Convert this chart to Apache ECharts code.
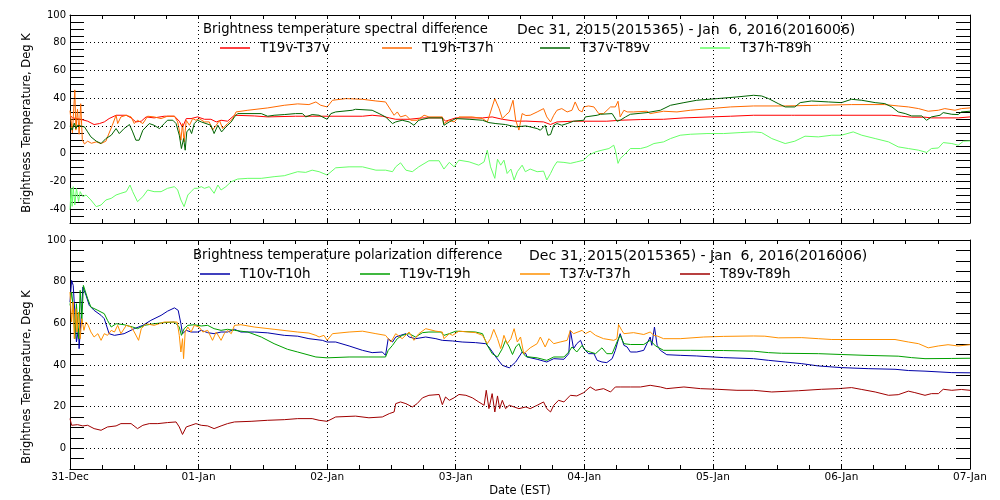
<!DOCTYPE html>
<html><head><meta charset="utf-8">
<script src="https://cdn.jsdelivr.net/npm/echarts@6/dist/echarts.min.js"></script>
<style>html,body{margin:0;padding:0;background:#fff}#c{width:1000px;height:500px}</style>
</head><body><div id="c"></div>
<script>
// ---- tick labels / gridlines ----
const dayLabels = ['31-Dec','01-Jan','02-Jan','03-Jan','04-Jan','05-Jan','06-Jan','07-Jan'];
const topGridValues = [80,60,40,20,0,-20,-40];
const bottomGridValues = [80,60,40,20,0];
const dayLines = [24,48,72,96,120,144];

// ---- series data: [hours since Dec 31 00:00 EST, Deg K] ----
const t19vT37v = [[0,27.7],[0.5,25.8],[2.0,24.8],[3.3,23.4],[4.5,21],[5.5,21.7],[6.4,22.9],[7.3,25.3],[8.6,27.7],[10.5,27.7],[11.4,25.8],[12.3,22.9],[13.3,23.4],[14.2,26.5],[15.7,25.8],[17.6,27],[19.5,27],[20.4,23.4],[21.0,19],[21.7,25.3],[22.6,25.3],[23.8,26.5],[25.1,24.8],[26.3,24.8],[27.3,22.9],[28.2,24.1],[29.4,23.4],[30.7,27.7],[34.4,27.2],[36.9,26.5],[42.1,27],[54.6,27],[56.4,27.7],[58.3,27],[59.6,25.8],[60.8,24.8],[63.3,24.8],[65.8,25.8],[69.5,25.8],[70.1,23.4],[72.0,25.8],[77.0,25.8],[78.8,26.5],[80.7,24.8],[83.2,23.4],[85.1,23.5],[88.4,22.9],[89.7,21],[90.9,22.9],[94.0,23.4],[100.2,23.4],[102.7,24.1],[106.5,24.6],[110.8,24.8],[114.6,25.8],[119.5,26.5],[123.3,27],[127.6,27.7],[134.7,27.7],[135.0,27],[135.3,27.7],[153.4,27.7],[155.2,27],[157.1,26.3],[159.6,26.3],[160.8,25.8],[165.8,25.8],[168,26.5]];
const t19hT37h = [[0,31],[0.45,15],[0.9,46],[1.1,17],[1.4,32],[1.7,14],[2.0,36],[2.3,10],[2.7,7],[3.3,9],[4.0,7.5],[4.9,8.5],[5.8,7.3],[6.7,9],[7.0,12],[7.9,20.5],[8.6,27.7],[8.9,21.7],[9.5,26.5],[10.5,27.7],[11.4,26.5],[12.0,21.7],[12.6,24.1],[13.6,21.7],[14.5,27],[15.7,26.5],[17.0,25.3],[18.2,27],[19.5,27],[20.1,22.9],[20.4,17],[20.7,9.7],[21.0,21.7],[21.3,8.5],[21.7,24],[22.3,20.5],[22.9,25.3],[23.5,24.1],[24.1,25.3],[25.1,22.9],[26.0,22.9],[26.6,17],[27.3,20.5],[27.9,24],[28.5,18.1],[29.4,21.7],[30.4,25.3],[31.0,30.1],[33.2,31.3],[36.9,33],[40.0,34.9],[42.5,35.9],[44.6,35.4],[45.9,37.3],[46.8,34.9],[48.0,33.7],[49.0,38.5],[51.5,39.7],[54.6,39.2],[57.1,38],[58.9,37.3],[59.9,31.3],[60.5,27.7],[61.1,30.1],[61.7,26.5],[62.7,27.7],[63.6,24.1],[64.8,24.1],[66.1,27.7],[67.0,26.5],[69.5,26.5],[69.8,21.7],[70.8,24.1],[71.7,22.9],[72.6,26.5],[75.1,26.5],[77.0,25.3],[77.9,22.9],[78.5,30.1],[79.3,39.7],[80.1,32.5],[80.7,25.3],[81.3,27.7],[82.0,30.1],[82.7,38.5],[83.2,24.1],[83.8,17],[84.4,28.9],[85.1,27.5],[85.9,27.7],[87.2,30.1],[88.4,32.5],[89.0,26.5],[89.7,22.9],[90.3,27.7],[90.9,31.3],[91.8,32.5],[92.8,30.1],[93.7,31.3],[94.3,37.3],[95.0,31.3],[95.6,30.1],[95.9,33.7],[96.8,34.4],[97.8,33.7],[98.7,28.9],[99.6,28.9],[100.9,33.7],[101.8,33.7],[102.3,37.8],[102.7,26.5],[103.4,31.3],[104.0,30.1],[105.2,30.1],[107.7,30.6],[108.3,28.9],[110.8,30.6],[113.3,30.1],[115.8,31.3],[119.5,32.5],[123.3,33.7],[127.6,34.4],[133.5,34.4],[139.7,34.9],[145.9,35.4],[152.1,35.4],[154.6,34.4],[156.5,33.7],[158.4,32.5],[160.2,30.6],[162.1,31.3],[163.3,32.5],[165.2,31.3],[166.4,32.5],[168,33]];
const t37vT89v = [[0,20],[0.4,17],[0.8,22],[1.1,18],[1.4,20.5],[2.7,19.3],[3.3,15.7],[3.9,12.1],[4.9,9],[5.8,7.3],[6.7,10.9],[7.7,13.3],[8.6,18.1],[9.2,14.5],[10.1,18.1],[11.1,21],[11.7,15.7],[12.3,9.7],[12.9,9.7],[13.6,16.9],[14.2,19.3],[14.8,21.7],[15.7,20.5],[16.7,18.1],[17.6,21.7],[18.2,24.1],[19.2,24.1],[19.8,21.7],[20.4,13.3],[20.8,3.7],[21.2,10.9],[21.5,2.5],[21.8,15.7],[22.3,18.1],[22.7,14.5],[23.2,21.7],[23.8,24.1],[24.5,22.9],[25.4,21.7],[26.3,20.5],[26.9,14.5],[27.6,20.5],[28.3,15.7],[29.1,19.3],[30.1,22.9],[30.7,26.5],[31.3,28.9],[35.7,28.9],[36.9,27],[38.1,27.7],[40.0,28.2],[42.1,28.9],[43.4,28.9],[44.0,26.5],[45.2,28.2],[46.5,27.7],[48.0,24.8],[48.7,28.9],[49.6,30.1],[52.7,31.3],[53.3,32],[56.4,31.3],[57.7,28.9],[58.9,26.5],[60.2,21.7],[60.8,22.9],[62.0,24.1],[63.3,22.9],[64.2,20.5],[65.1,24.1],[67.0,25.8],[69.5,25.8],[69.8,20.5],[70.8,22.9],[72.0,25.3],[74.5,24.8],[77.0,24.1],[78.2,22.4],[79.5,21.7],[81.3,21],[83.2,19.3],[85.1,20],[85.9,19.3],[87.2,18.1],[87.8,16.9],[88.7,20.5],[89.2,13.3],[89.7,13.8],[90.3,20.5],[90.9,21.7],[91.8,20.5],[92.8,21.7],[94.0,23.4],[95.9,24.1],[96.2,26.5],[98.4,27.7],[99.0,28.4],[101.2,28.9],[101.5,27.7],[102.1,23.4],[102.7,24.1],[103.7,26.5],[104.6,28.4],[107.7,29.6],[110.2,31.3],[112.1,34.9],[114.6,36.8],[117.0,38.5],[120.8,39.7],[124.5,40.9],[127.6,42.1],[129.1,41.6],[130.4,39.7],[132.2,36.1],[133.5,33.7],[135.3,33.7],[136.3,36.8],[138.4,38],[141.6,37.3],[144.0,36.8],[145.9,39.2],[147.8,38.5],[150.3,36.8],[152.1,36.1],[153.4,33.7],[154.6,30.1],[155.9,28.9],[157.1,27.2],[159.0,27.2],[159.9,24.1],[160.8,26.5],[162.4,27.7],[163.0,29.6],[164.6,28.4],[165.8,28.2],[166.4,30.1],[168,30.6]];
const t37hT89h = [[0,-40.6],[0.2,-25],[0.4,-38],[0.6,-23.8],[0.9,-37],[1.2,-25],[1.6,-34.6],[1.9,-27.4],[2.4,-31],[3.0,-29.8],[3.9,-33.4],[4.9,-38.2],[5.8,-37],[6.7,-33.4],[7.7,-32.2],[8.6,-29.8],[9.5,-28.6],[10.5,-27.4],[11.2,-22.6],[11.7,-27.4],[12.6,-34.6],[13.6,-31],[14.5,-26.2],[15.7,-27.4],[17.0,-27.4],[18.2,-25],[19.5,-23.8],[20.1,-26.2],[20.7,-33.4],[21.3,-38.2],[22.0,-29.8],[22.6,-27.4],[23.2,-25],[23.8,-25],[24.5,-23.8],[25.1,-25],[26.0,-23.8],[26.9,-28.6],[27.6,-22.6],[28.2,-26.2],[29.1,-23.8],[30.1,-20.2],[31.3,-18.3],[33.2,-17.8],[35.7,-17.8],[38.1,-16.6],[40.0,-15.9],[42.5,-13],[44.0,-13.5],[45.2,-11.9],[46.5,-13],[48.0,-15.4],[49.6,-10.2],[52.1,-9.5],[54.6,-9.5],[57.1,-11.9],[58.9,-11.9],[60.2,-13],[60.8,-9.5],[61.7,-6.6],[62.7,-11.9],[63.9,-13],[65.1,-9.5],[67.0,-5.1],[68.9,-5.1],[69.8,-11.1],[70.8,-6.3],[71.7,-9.5],[72.6,-4.7],[74.5,-5.9],[76.3,-8.3],[77.3,-5.9],[77.9,2.5],[78.5,-9.5],[79.3,-17.8],[79.8,-4],[80.4,-8.3],[81.0,-4.7],[81.6,-14.3],[82.3,-11.1],[82.9,-19],[83.5,-13],[84.4,-8.3],[84.7,-7],[85.0,-13],[85.9,-11.1],[87.2,-13],[88.4,-12.6],[89.0,-19],[89.7,-14.3],[90.3,-9.5],[90.9,-5.9],[92.2,-6.3],[93.4,-7],[94.6,-5.9],[95.9,-4.7],[96.8,-1.1],[98.1,1.3],[99.3,2.5],[100.6,3.7],[101.5,6.1],[101.8,2.5],[102.3,-7],[102.7,-3.5],[103.4,-1.1],[104.6,3.7],[106.5,3.7],[107.7,4.9],[109.0,7.3],[110.8,8.5],[112.1,10.9],[113.9,13.3],[115.8,14],[118.9,14.5],[122.0,14.5],[125.1,15.2],[127.6,15.7],[129.1,15.2],[131.0,10.9],[133.5,7.3],[135.3,9],[137.2,12.6],[139.7,12.1],[142.2,13.3],[144.0,13.3],[146.2,15.7],[147.8,13.3],[150.3,10.9],[152.8,8.5],[154.6,4.9],[156.5,3.7],[158.4,2.5],[159.9,0.9],[160.8,3.7],[162.1,4.1],[163.0,8],[164.6,7.3],[165.8,6.1],[166.8,9],[168,9.2]];

const t10vT10h = [[0,70.2],[0.3,80.6],[0.6,78.2],[0.9,65.4],[1.2,51],[1.6,57.4],[1.7,47.8],[2.1,63.8],[2.4,77.4],[2.7,77.4],[3.0,73.4],[3.6,68.6],[4.5,66.2],[5.8,63.8],[6.4,62.2],[6.9,58.2],[7.3,55],[8.3,54.2],[10.1,55],[12.0,57.4],[13.6,59],[15.1,61.4],[17.0,63.8],[18.2,65.8],[19.5,67.4],[20.2,66.2],[20.7,59.8],[21.0,55],[21.7,56.6],[22.6,55.8],[23.8,55.8],[24.5,56.6],[25.7,55.5],[26.9,55],[28.2,55.8],[29.4,55.8],[30.7,57.1],[31.9,55.8],[34.4,55.8],[36.9,55.4],[40.0,54.2],[42.5,53.8],[44.6,52.6],[47.1,51.8],[48.0,51],[49.6,51],[52.1,49.1],[54.6,47],[56.4,45.9],[58.3,46.2],[58.9,44.6],[59.4,52.6],[60.2,51],[60.8,53.4],[61.7,54.2],[62.7,55],[63.3,53.4],[64.5,52.6],[66.4,53.4],[68.3,52.6],[69.5,51.8],[71.4,51.5],[73.2,51],[75.7,50.7],[77.6,50.2],[78.2,48.6],[79.5,43.8],[80.7,39.8],[82.0,38.6],[83.2,41.4],[84.4,46.2],[85.1,45.4],[85.3,43.8],[87.2,42.7],[89.0,41.4],[90.3,43],[92.2,42.7],[93.1,45.4],[93.4,56.6],[94.0,47.8],[94.6,50.2],[95.3,51.8],[95.9,47.8],[96.8,45.4],[97.8,45.4],[98.4,42.2],[99.3,41.4],[100.2,41.1],[101.2,43],[101.8,47],[102.4,52.6],[102.7,55],[103.4,49.4],[104.0,48.6],[104.6,46.2],[105.8,46.2],[107.1,47],[107.7,50.2],[108.3,53.4],[108.6,49.4],[109.1,58.2],[109.6,49.4],[110.2,47],[111.4,44.9],[113.9,44.6],[117.0,44.3],[122.0,43.5],[127.6,43],[130.4,42.2],[133.5,41.4],[136.6,40.6],[139.7,39.5],[144.0,38.7],[149.0,38.2],[154.0,37.9],[156.5,37.3],[159.6,37],[164.6,36.3],[168,36.2]];
const t19vT19h = [[0,68.6],[0.3,75],[0.7,65.4],[0.9,52.6],[1.2,69.4],[1.6,52.6],[1.9,75.8],[2.2,60.6],[2.5,78.2],[2.8,78.2],[3.3,71.8],[3.9,67.8],[5.2,66.2],[6.4,64.6],[7.0,61.4],[7.7,58.2],[8.6,59.8],[10.1,59.3],[11.7,58.2],[12.6,57.4],[13.9,59],[15.7,59.8],[17.6,60.3],[19.5,60.6],[20.4,58.2],[20.8,54.2],[21.3,57.4],[22.0,59],[23.2,59.3],[24.5,58.7],[25.7,59],[26.9,57.4],[28.2,56.6],[29.4,57.1],[30.7,56.6],[33.2,55.8],[35.7,53.4],[38.1,50.2],[40.6,47.5],[42.5,46.2],[45.9,43.8],[48.0,43.4],[52.1,43.8],[55.8,43.8],[58.9,43.8],[59.4,47],[60.2,49.4],[61.1,52.6],[62.0,54.2],[63.3,55],[64.5,53.4],[65.8,55.5],[67.0,55.8],[69.2,55.8],[69.8,54.2],[70.8,55],[72.0,56.2],[75.7,55.8],[77.0,55],[77.9,49.4],[78.8,45.4],[79.8,43.8],[80.7,47.8],[81.3,51.8],[82.0,48.6],[82.6,45],[83.2,48.6],[83.8,50.2],[84.4,46.2],[85.1,44],[87.2,43.4],[89.0,42.2],[90.3,43.8],[92.2,43.8],[93.1,46.2],[93.7,48.6],[94.6,46.2],[95.6,49.4],[96.2,47],[97.1,46.2],[98.1,45.4],[99.3,48.2],[100.2,45.4],[101.2,45.4],[102.1,51],[102.7,54.2],[103.4,50.2],[104.6,49.8],[107.1,49.8],[108.3,51.8],[109.3,49.1],[110.8,47],[115.8,47],[122.0,46.9],[127.6,46.6],[130.4,45.9],[132.8,45.6],[139.7,45.4],[144.0,45],[148.4,44.6],[154.6,44.2],[157.1,43.5],[159.6,43],[164.6,43.1],[168,43.2]];
const t37vT37h = [[0,75],[0.3,60.6],[0.6,70.2],[0.8,52.6],[1.1,67],[1.3,55.8],[1.6,65.4],[1.9,52.6],[2.2,62.2],[2.6,56.6],[3.0,60.6],[3.4,59],[3.9,55.8],[4.5,53.4],[5.2,55],[5.8,51.8],[6.4,55],[7.0,54.2],[7.7,56.6],[8.3,55.8],[8.9,59],[9.5,55],[10.5,59],[11.4,58.2],[12.0,55.8],[12.8,51.8],[13.3,57.4],[14.2,59.8],[15.7,59],[17.6,60.6],[18.9,60.6],[20.0,60.6],[20.4,54.2],[20.7,46.2],[21.0,52.6],[21.2,43],[21.5,55.8],[22.0,58.2],[22.6,55.8],[23.2,59],[24.1,58.2],[24.8,55.8],[25.7,56.6],[26.6,51.8],[27.3,55.8],[28.2,51.8],[28.8,55],[29.4,56.6],[30.1,55],[30.7,59],[31.9,59.3],[34.4,58.2],[38.1,57.1],[42.5,55.8],[44.6,55.3],[45.9,54.2],[46.5,53.4],[47.4,54.2],[48.0,51.8],[49.0,55],[52.1,55.8],[54.6,56.2],[57.1,55],[58.9,54.2],[59.9,51],[60.8,55],[62.0,52.6],[63.3,55.8],[64.2,51.8],[65.1,55],[66.4,57.4],[68.3,56.2],[69.5,55.8],[69.8,52.6],[70.8,55],[71.4,54.2],[72.6,56.2],[75.7,55.5],[77.0,54.2],[77.9,50.2],[78.5,52.6],[79.1,57.1],[79.8,52.6],[80.4,47.8],[81.0,54.2],[81.6,50.2],[82.3,52.6],[82.9,57.4],[83.5,51],[84.1,53.4],[84.7,45.4],[85.0,46.2],[85.9,48.2],[87.2,50.2],[87.8,53.4],[88.7,48.6],[89.4,52.6],[90.3,50.2],[91.5,51],[92.8,51.8],[93.4,56.6],[94.0,55],[95.6,56.6],[96.2,55],[97.1,56.2],[98.1,54.2],[99.6,52.6],[101.5,51.8],[102.1,52.6],[102.4,59.4],[103.0,56.6],[103.4,55],[105.2,55.5],[107.1,54.6],[108.3,55.8],[109.0,54.2],[109.6,53.9],[110.8,52.6],[113.9,52.6],[118.3,53.4],[122.0,53.7],[127.6,53.9],[129.7,53.8],[132.2,53],[136.6,53.1],[139.7,52.6],[142.2,52.2],[154.0,52.2],[156.5,51],[158.4,50.2],[160.2,48.2],[162.1,49.1],[163.9,49.7],[165.8,49.1],[168,49.7]];
const t89vT89h = [[0,14.2],[0.3,11],[1.4,11.3],[2.4,10.7],[3.3,11],[4.5,9.4],[5.8,8.6],[7.0,10.2],[8.6,10.7],[9.5,11.8],[11.4,11.8],[12.6,9.4],[13.6,11],[14.8,11.8],[16.4,11.8],[18.2,12.3],[19.8,12.6],[20.4,10.2],[21.0,6.6],[21.7,10.2],[22.6,11],[23.5,11.8],[24.5,11],[25.7,10.7],[26.9,9.4],[28.2,10.7],[29.4,11.8],[30.7,12.6],[33.8,12.9],[36.9,13.4],[40.0,13.7],[42.5,14.2],[45.2,14.2],[46.5,13.4],[48.0,12.9],[49.6,15],[53.3,15.4],[55.8,14.6],[58.3,15],[59.6,16.6],[60.5,17.4],[60.8,21.4],[61.7,22.2],[62.7,21.4],[63.9,19.8],[64.8,21.4],[65.8,24.2],[67.0,25.4],[68.9,25.8],[69.5,20.9],[70.1,24.6],[70.8,23],[71.7,24.2],[72.6,25.8],[73.9,25.4],[75.1,24.2],[76.3,22.2],[77.3,20.6],[77.7,27.8],[78.2,19],[78.8,26.2],[79.3,17.4],[79.8,25.1],[80.2,19],[80.7,23],[81.3,19],[82.0,20.6],[82.9,19.8],[83.8,19],[85.1,19.8],[85.9,19],[87.2,20.6],[88.4,22.2],[89.0,19],[89.7,17.4],[90.3,20.6],[91.2,23],[92.2,22.2],[93.4,25.4],[94.6,25.1],[95.9,26.7],[97.1,29.4],[98.1,27.8],[99.6,28.6],[100.9,27],[101.8,29.4],[102.7,29.4],[104.6,29.4],[106.5,29.4],[108.3,30.2],[110.2,29.4],[111.4,28.6],[114.6,29.4],[117.7,28.6],[120.8,28.3],[124.5,27.8],[127.6,27.8],[131.0,27],[136.0,27.6],[140.3,28.3],[143.4,28.6],[145.9,29.1],[147.8,28.2],[150.3,27],[152.8,25.4],[154.6,25.7],[156.5,27.4],[157.7,26.7],[159.6,25.4],[160.8,26.2],[162.1,26.2],[163.0,28.3],[164.6,27.8],[166.4,28.2],[168,27.8]];

const topNames = ['T19v-T37v','T19h-T37h','T37v-T89v','T37h-T89h'];
const topData = [t19vT37v, t19hT37h, t37vT89v, t37hT89h];
const topColors = ['#ff0000','#ff6a00','#006400','#66ff66'];
const botNames = ['T10v-T10h','T19v-T19h','T37v-T37h','T89v-T89h'];
const botData = [t10vT10h, t19vT19h, t37vT37h, t89vT89h];
const botColors = ['#0000a8','#00a000','#ff9000','#a00000'];

const FF = 'DejaVu Sans';
const chart = echarts.init(document.getElementById('c'));

function xAxesFor(gi, labels) {
  const base = {
    type: 'value', gridIndex: gi, min: 0, max: 168, interval: 6,
    axisLine: { show: true, onZero: false, lineStyle: { color: '#000', width: 1 } },
    axisTick: { show: true, inside: true, length: 4, lineStyle: { color: '#000', width: 1 } },
    splitLine: { show: false }
  };
  return [
    Object.assign({}, base, {
      position: 'bottom',
      axisLabel: { show: labels, color: '#000', fontFamily: FF, fontSize: 10.5, margin: 3,
        formatter: v => (v % 24 === 0 ? dayLabels[v / 24] : '') },
      name: labels ? 'Date (EST)' : '', nameLocation: 'middle', nameGap: 16,
      nameTextStyle: { color: '#000', fontFamily: FF, fontSize: 11.5 }
    }),
    Object.assign({}, base, { position: 'top', axisLabel: { show: false } })
  ];
}
function yAxesFor(gi, min, max) {
  const base = {
    type: 'value', gridIndex: gi, min: min, max: max, interval: 5,
    axisLine: { show: true, onZero: false, lineStyle: { color: '#000', width: 1 } },
    axisTick: { show: true, inside: true, length: 14, lineStyle: { color: '#000', width: 1 } },
    splitLine: { show: false }
  };
  return [
    Object.assign({}, base, { position: 'left',
      axisLabel: { color: '#000', fontFamily: FF, fontSize: 10, margin: 4,
        formatter: v => (v % 20 === 0 ? String(v) : '') } }),
    Object.assign({}, base, { position: 'right', axisLabel: { show: false } })
  ];
}

const gridStyle = { color: '#000', type: [1, 3], width: 1 };
const series = [];
topNames.forEach((n, i) => {
  const s = { name: n, type: 'line', xAxisIndex: 0, yAxisIndex: 0, data: topData[i],
    showSymbol: false, symbol: 'none', color: topColors[i], lineStyle: { width: 1, color: topColors[i] } };
  if (i === 0) s.markLine = { silent: true, symbol: 'none', label: { show: false }, lineStyle: gridStyle,
    data: topGridValues.map(v => ({ yAxis: v })).concat(dayLines.map(v => ({ xAxis: v }))) };
  series.push(s);
});
botNames.forEach((n, i) => {
  const s = { name: n, type: 'line', xAxisIndex: 2, yAxisIndex: 2, data: botData[i],
    showSymbol: false, symbol: 'none', color: botColors[i], lineStyle: { width: 1, color: botColors[i] } };
  if (i === 0) s.markLine = { silent: true, symbol: 'none', label: { show: false }, lineStyle: gridStyle,
    data: bottomGridValues.map(v => ({ yAxis: v })).concat(dayLines.map(v => ({ xAxis: v }))) };
  series.push(s);
});

const topLegendX = [220, 382, 540, 700];
const botLegendX = [200, 360, 520, 680];
const legends = [];
topNames.forEach((n, i) => legends.push({ data: [n], left: topLegendX[i], top: 41 }));
botNames.forEach((n, i) => legends.push({ data: [n], left: botLegendX[i], top: 267 }));
legends.forEach(l => Object.assign(l, { icon: 'rect', itemWidth: 30, itemHeight: 1.5, itemGap: 0, padding: 0,
  selectedMode: false, textStyle: { color: '#000', fontFamily: FF, fontSize: 13.5, padding: [0, 0, 0, 5] } }));

function txt(x, y, text, size, rot) {
  return { type: 'text', x: x, y: y, rotation: rot || 0,
    style: { text: text, fill: '#000', font: size + 'px "' + FF + '"',
      align: rot ? 'center' : 'left', verticalAlign: 'middle',
      textAlign: rot ? 'center' : 'left', textVerticalAlign: 'middle' } };
}

chart.setOption({
  animation: false,
  backgroundColor: '#fff',
  grid: [
    { left: 70, right: 30, top: 15, height: 208 },
    { left: 70, right: 30, top: 240, height: 229 }
  ],
  xAxis: xAxesFor(0, false).concat(xAxesFor(1, true)),
  yAxis: yAxesFor(0, -50, 100).concat(yAxesFor(1, -10, 100)),
  legend: legends,
  series: series,
  graphic: [
    txt(203, 30, 'Brightness temperature spectral difference', 13.2),
    txt(517, 30, 'Dec 31, 2015(2015365) - Jan  6, 2016(2016006)', 14),
    txt(193, 256, 'Brightness temperature polarization difference', 13.2),
    txt(529, 256, 'Dec 31, 2015(2015365) - Jan  6, 2016(2016006)', 14),
    txt(27, 123, 'Brightness Temperature, Deg K', 11.5, Math.PI / 2),
    txt(27, 377, 'Brightnes Temperature, Deg K', 11.5, Math.PI / 2)
  ]
});
</script>
</body></html>
